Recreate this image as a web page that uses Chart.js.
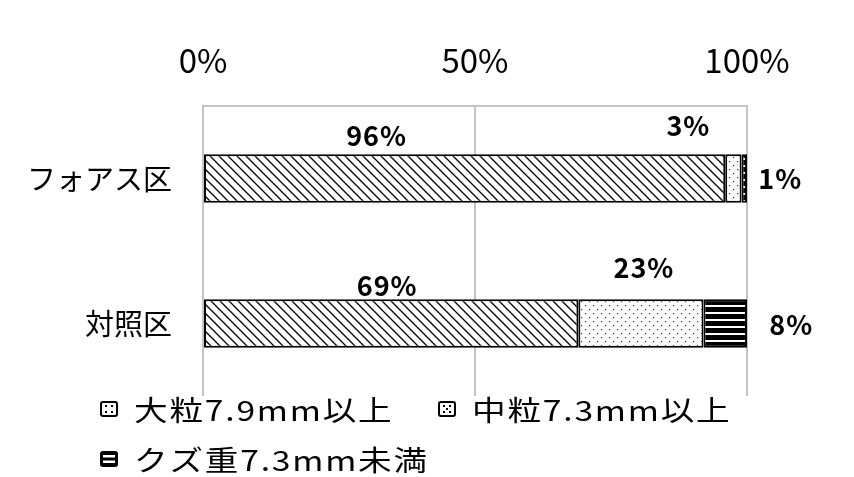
<!DOCTYPE html>
<html>
<head>
<meta charset="utf-8">
<script src="https://cdn.jsdelivr.net/npm/chart.js@4"></script>
<style>
html,body{margin:0;padding:0;background:#fff;}
#wrap{width:854px;height:477px;position:relative;}
</style>
</head>
<body>
<div id="wrap"><canvas id="c" width="854" height="477"></canvas></div>
<script>
const categories = ['フォアス区', '対照区'];
const seriesNames = ['大粒7.9mm以上', '中粒7.3mm以上', 'クズ重7.3mm未満'];
const largeGrain = [96, 69];
const mediumGrain = [3, 23];
const wasteGrain = [1, 8];
const tickValues = [0, 50, 100];

const FONT = '"Noto Sans CJK JP", "Noto Sans", sans-serif';

function makePattern(kind) {
  const c = document.createElement('canvas');
  const ctx = c.getContext('2d');
  if (kind === 'diag') {
    const s = 9;
    c.width = s; c.height = s;
    ctx.fillStyle = '#fff'; ctx.fillRect(0, 0, s, s);
    ctx.strokeStyle = '#000'; ctx.lineWidth = 1.3;
    ctx.beginPath();
    ctx.moveTo(-1, -1); ctx.lineTo(s + 1, s + 1);
    ctx.moveTo(-1, s - 1); ctx.lineTo(1, s + 1);
    ctx.moveTo(s - 1, -1); ctx.lineTo(s + 1, 1);
    ctx.stroke();
  } else if (kind === 'dots') {
    c.width = 8; c.height = 8;
    ctx.fillStyle = '#fff'; ctx.fillRect(0, 0, 8, 8);
    ctx.fillStyle = '#333';
    ctx.fillRect(1, 1, 1.2, 1.2);
    ctx.fillRect(5, 5, 1.2, 1.2);
  } else {
    c.width = 4; c.height = 7;
    ctx.fillStyle = '#000'; ctx.fillRect(0, 0, 4, 7);
    ctx.fillStyle = '#fff'; ctx.fillRect(0, 4, 4, 2);
  }
  return ctx.createPattern(c, 'repeat');
}

const patterns = [makePattern('diag'), makePattern('dots'), makePattern('lines')];

// label placement offsets relative to bar segment centre (style only)
const labelOffsets = [
  [[-88, -43], [-4, -38]],
  [[-45, -53], [3, -56]],
  [[36, 0], [66, 1]]
];

const dataLabelPlugin = {
  id: 'dataLabels',
  afterDatasetsDraw(chart) {
    const ctx = chart.ctx;
    ctx.save();
    ctx.font = 'bold 27px ' + FONT;
    ctx.letterSpacing = '1px';
    ctx.fillStyle = '#000';
    ctx.textAlign = 'center';
    ctx.textBaseline = 'middle';
    chart.data.datasets.forEach((ds, di) => {
      const meta = chart.getDatasetMeta(di);
      meta.data.forEach((el, i) => {
        const cx = (el.x + el.base) / 2;
        const off = labelOffsets[di][i];
        ctx.fillText(ds.data[i] + '%', cx + off[0], el.y + off[1]);
      });
    });
    ctx.restore();
  }
};

function roundRect(ctx, x, y, w, h, r) {
  ctx.beginPath();
  ctx.moveTo(x + r, y);
  ctx.lineTo(x + w - r, y); ctx.quadraticCurveTo(x + w, y, x + w, y + r);
  ctx.lineTo(x + w, y + h - r); ctx.quadraticCurveTo(x + w, y + h, x + w - r, y + h);
  ctx.lineTo(x + r, y + h); ctx.quadraticCurveTo(x, y + h, x, y + h - r);
  ctx.lineTo(x, y + r); ctx.quadraticCurveTo(x, y, x + r, y);
  ctx.closePath();
}

function drawLegendIcon(ctx, kind, x, y, w, h) {
  ctx.save();
  if (kind === 2) {
    ctx.fillStyle = '#000';
    roundRect(ctx, x, y, w, h, 3);
    ctx.fill();
    ctx.fillStyle = '#fff';
    ctx.fillRect(x + 3, y + 4, w - 6, 2.5);
    ctx.fillRect(x + 3, y + 9.5, w - 6, 2.5);
  } else {
    ctx.fillStyle = '#fff';
    ctx.fillRect(x, y, w, h);
    ctx.strokeStyle = '#000';
    ctx.lineWidth = 2;
    roundRect(ctx, x + 1, y + 1, w - 2, h - 2, 2);
    ctx.stroke();
    ctx.fillStyle = '#000';
    const d = [[5, 4], [w - 7, 4], [5, h - 6], [w - 7, h - 6]];
    if (kind === 1) d.push([w / 2 - 1, h / 2 - 1]);
    d.forEach(p => ctx.fillRect(x + p[0], y + p[1], 2, 2));
  }
  ctx.restore();
}

const legendPlugin = {
  id: 'customLegend',
  afterDraw(chart) {
    const ctx = chart.ctx;
    const spots = [[100, 409], [438, 409], [100, 459]];
    const sx = 1.2;
    chart.data.datasets.forEach((ds, di) => {
      const [x, y] = spots[di];
      drawLegendIcon(ctx, di, x, y - 8, 18, 16);
      ctx.save();
      ctx.translate(x + 34, y + 1);
      ctx.scale(sx, 1);
      ctx.font = '28px ' + FONT;
      ctx.letterSpacing = '1.5px';
      ctx.fillStyle = '#000';
      ctx.textAlign = 'left';
      ctx.textBaseline = 'middle';
      ctx.fillText(ds.label, 0, 0);
      ctx.restore();
    });
  }
};

const datasets = [largeGrain, mediumGrain, wasteGrain].map((vals, i) => ({
  label: seriesNames[i],
  data: vals,
  backgroundColor: patterns[i],
  borderColor: '#000',
  borderWidth: 2,
  borderSkipped: false,
  categoryPercentage: 1,
  barPercentage: 0.335
}));

new Chart(document.getElementById('c'), {
  type: 'bar',
  data: { labels: categories, datasets },
  options: {
    indexAxis: 'y',
    responsive: false,
    animation: false,
    layout: { padding: { left: 0, right: 107, top: 0, bottom: 81 } },
    plugins: { legend: { display: false }, tooltip: { enabled: false } },
    scales: {
      x: {
        position: 'top',
        stacked: true,
        min: 0, max: 100,
        afterBuildTicks(scale) { scale.ticks = tickValues.map(v => ({ value: v })); },
        afterFit(scale) { scale.height = 106; },
        ticks: {
          callback: v => v + '%',
          font: { family: FONT, size: 33 },
          color: '#000',
          padding: 26,
          maxRotation: 0
        },
        grid: { color: '#c4c4c4', lineWidth: 2, drawTicks: false },
        border: { display: true, color: '#c4c4c4', width: 2 }
      },
      y: {
        stacked: true,
        afterFit(scale) { scale.width = 203; },
        ticks: {
          font: { family: FONT, size: 29 },
          color: '#000',
          padding: 31
        },
        grid: { display: false, drawTicks: false },
        border: { display: false }
      }
    }
  },
  plugins: [dataLabelPlugin, legendPlugin]
});
</script>
</body>
</html>
